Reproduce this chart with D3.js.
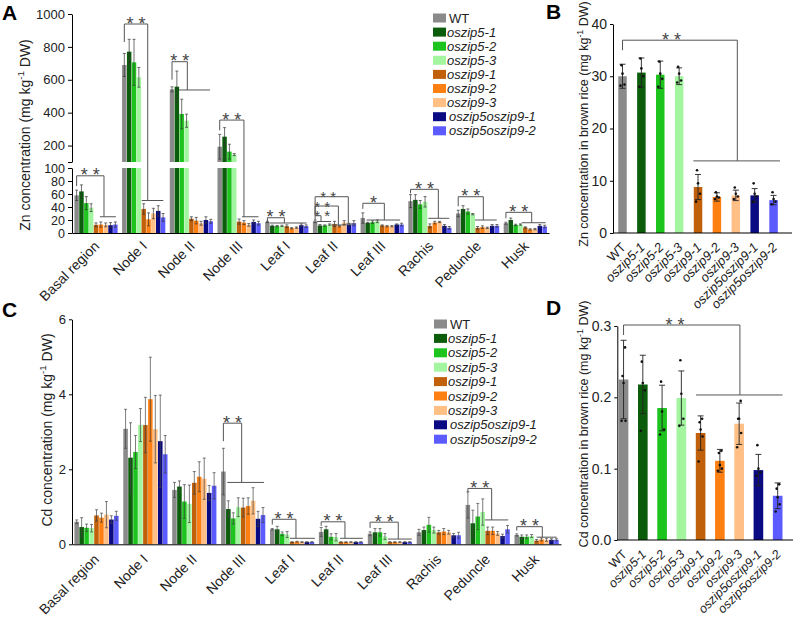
<!DOCTYPE html>
<html><head><meta charset="utf-8">
<script src="https://cdn.jsdelivr.net/npm/d3@7"></script>
<style>
body{margin:0;background:#fff;}
text{font-family:"Liberation Sans",Arial,sans-serif;fill:#222;}
</style></head><body>
<svg id="chart" width="795" height="617"></svg>
<script>
// ---------- data ----------
const series = ["WT","oszip5-1","oszip5-2","oszip5-3","oszip9-1","oszip9-2","oszip9-3","oszip5oszip9-1","oszip5oszip9-2"];
const colors = ["#8a8a8a","#0b5d0b","#1ec41e","#a3f5a0","#c0600b","#ff8012","#ffbf85","#0a0a82","#5b5bff"];
const tissues = ["Basal region","Node I","Node II","Node III","Leaf I","Leaf II","Leaf III","Rachis","Peduncle","Husk"];

// Panel A: Zn (mg/kg DW), rows = tissues, cols = series
const znMean = [
  [58, 64, 46, 39, 12.5, 13, 12.5, 12, 13],
  [690, 771, 706, 615, 37, 21, 30, 34, 24],
  [542, 558, 392, 351, 22, 19, 15, 20, 18],
  [193, 254, 163, 145, 17.5, 16, 12.5, 17, 15],
  [17, 11, 10.5, 11, 10.5, 7.3, 8.3, 12, 10.5],
  [18, 11.5, 11.5, 13, 14, 10.4, 16, 13, 15],
  [23, 15.6, 16.7, 18, 11.5, 10.4, 10.4, 13, 13],
  [49, 51, 44, 48, 11, 16, 17, 11, 8],
  [30, 37, 33, 29, 8, 9, 8, 11, 11],
  [15, 20, 12.5, 13, 8.5, 5.5, 6, 11, 10]
];
const znErr = [
  [8, 10, 10, 6, 3, 4, 3, 4, 4],
  [70, 75, 140, 60, 8, 10, 8, 8, 6],
  [15, 95, 90, 40, 3, 5, 3, 5, 3],
  [75, 55, 45, 6, 4, 3, 2, 3, 3],
  [1, 1, 1, 1, 2, 1, 1, 2, 2],
  [2, 1.5, 1, 1, 4, 1, 3, 2, 4],
  [8, 1, 2, 2, 1, 1, 1, 1, 2],
  [10, 8, 6, 8, 3, 2, 1, 2, 2],
  [5, 5, 4, 1, 2, 2, 1, 2, 2],
  [1.5, 3, 1, 1, 1, 1, 1, 2, 2]
];
const znTicksUpper = [100, 200, 400, 600, 800, 1000];
const znTicksLower = [0, 20, 40, 60, 80, 100];

// Panel B: Zn in brown rice
const znRiceMean = [30.0, 30.7, 30.3, 30.0, 8.8, 6.9, 7.2, 7.2, 6.3];
const znRiceErr  = [2.3, 2.8, 2.6, 1.6, 2.4, 0.8, 1.0, 1.3, 0.9];
const znRiceDots = [
  [28.2, 28.4, 30.5, 32.1], [28.0, 30.0, 31.5, 33.4], [28.0, 29.5, 30.5, 32.8],
  [28.8, 29.2, 30.5, 31.8], [6.0, 7.5, 9.5, 12.0], [6.5, 6.8, 7.0, 7.8],
  [6.5, 7.0, 7.5, 8.7], [6.0, 7.0, 7.5, 9.5], [5.5, 6.0, 6.5, 7.8]
];
const znRiceTicks = [0, 10, 20, 30, 40];

// Panel C: Cd (mg/kg DW)
const cdMean = [
  [0.60, 0.46, 0.44, 0.43, 0.77, 0.71, 0.79, 0.66, 0.76],
  [3.08, 2.31, 2.46, 3.18, 3.18, 3.87, 3.07, 2.75, 2.40],
  [1.45, 1.54, 1.14, 1.08, 1.64, 1.80, 1.75, 1.37, 1.56],
  [1.94, 0.94, 0.69, 0.99, 0.98, 1.02, 1.16, 0.68, 0.78],
  [0.40, 0.40, 0.28, 0.26, 0.06, 0.07, 0.06, 0.06, 0.06],
  [0.33, 0.40, 0.20, 0.19, 0.06, 0.06, 0.06, 0.06, 0.06],
  [0.28, 0.32, 0.32, 0.21, 0.06, 0.06, 0.06, 0.06, 0.06],
  [0.32, 0.38, 0.52, 0.38, 0.32, 0.34, 0.32, 0.24, 0.24],
  [1.05, 0.56, 0.74, 0.86, 0.36, 0.36, 0.29, 0.22, 0.40],
  [0.25, 0.20, 0.20, 0.22, 0.10, 0.13, 0.12, 0.12, 0.12]
];
const cdErr = [
  [0.05, 0.25, 0.10, 0.10, 0.15, 0.12, 0.35, 0.10, 0.12],
  [0.52, 0.93, 0.44, 0.44, 0.74, 1.12, 0.90, 1.23, 0.50],
  [0.20, 0.15, 0.45, 0.50, 0.30, 0.40, 0.55, 0.20, 0.35],
  [0.62, 0.22, 0.15, 0.25, 0.25, 0.22, 0.35, 0.20, 0.20],
  [0.02, 0.08, 0.05, 0.08, 0.01, 0.01, 0.01, 0.01, 0.01],
  [0.12, 0.08, 0.08, 0.10, 0.01, 0.01, 0.01, 0.01, 0.01],
  [0.05, 0.10, 0.10, 0.08, 0.01, 0.01, 0.01, 0.01, 0.01],
  [0.08, 0.08, 0.20, 0.08, 0.05, 0.08, 0.05, 0.05, 0.08],
  [0.35, 0.35, 0.35, 0.35, 0.10, 0.10, 0.05, 0.05, 0.10],
  [0.03, 0.05, 0.05, 0.04, 0.03, 0.04, 0.04, 0.03, 0.03]
];
const cdTicks = [0, 2, 4, 6];

// Panel D: Cd in brown rice
const cdRiceMean = [0.225, 0.218, 0.185, 0.199, 0.150, 0.111, 0.163, 0.098, 0.062];
const cdRiceErr  = [0.055, 0.041, 0.032, 0.038, 0.024, 0.016, 0.029, 0.022, 0.018];
const cdRiceDots = [
  [0.167, 0.167, 0.22, 0.23, 0.27], [0.153, 0.21, 0.22, 0.25], [0.148, 0.155, 0.18, 0.222],
  [0.16, 0.17, 0.205, 0.252], [0.11, 0.145, 0.155, 0.165, 0.17], [0.097, 0.10, 0.105, 0.122, 0.125],
  [0.13, 0.15, 0.17, 0.17, 0.195], [0.09, 0.095, 0.10, 0.133], [0.04, 0.05, 0.06, 0.072, 0.078]
];
const cdRiceTicks = [0, 0.1, 0.2, 0.3];

// significance brackets: t = tissue index, top/low in data units, positions in series-index units
const znBrackets = [
  {t:0, top:88, right:5.65, low:25, from:4.8, to:8.1, s:"* *"},
  {t:1, top:939, right:4.83, low:50, from:3.6, to:8.05, s:"* *"},
  {t:2, top:710, right:3.16, low:538, from:1.44, to:7.84, s:"* *"},
  {t:3, top:355, right:5.0, low:25, from:4.6, to:8.0, s:"* *"},
  {t:4, top:23.5, right:3.5, low:15.4, from:0.54, to:8.1, s:"* *"},
  {t:5, top:26.6, right:1.22, low:17.7, from:0.4, to:3.3, s:"* *", tp:1.45},
  {t:5, top:41.5, right:4.8, low:12.3, from:3.4, to:6.4, s:"* *", tp:1.45},
  {t:5, top:55.8, right:6.85, low:13.8, from:6.4, to:8.4, s:"* *", tp:2.7},
  {t:6, top:45.7, right:4.44, low:20, from:0.8, to:7.7, s:"*"},
  {t:7, top:67.2, right:5.74, low:22.6, from:3.67, to:8.0, s:"* *"},
  {t:8, top:55.8, right:5.18, low:20, from:3.47, to:7.94, s:"* *"},
  {t:9, top:31.8, right:5.32, low:15.8, from:3.26, to:8.2, s:"* *"}
];
const cdBrackets = [
  {t:3, top:3.23, right:3.69, low:1.65, from:0.79, to:8.2, s:"* *"},
  {t:4, top:0.667, right:4.78, low:0.16, from:3.57, to:8.6, s:"* *"},
  {t:5, top:0.60, right:4.8, low:0.16, from:3.8, to:8.4, s:"* *"},
  {t:6, top:0.59, right:5.69, low:0.14, from:3.6, to:8.4, s:"* *"},
  {t:8, top:1.49, right:4.8, low:0.65, from:3.45, to:8.15, s:"* *"},
  {t:9, top:0.47, right:5.15, low:0.19, from:4.0, to:8.05, s:"* *"}
];
const znRiceBracket = {top:36.9, right:6.08, low:13.8, from:3.75, to:8.34, s:"* *", tp:2.6};
const cdRiceBracket = {top:0.3014, right:6.04, low:0.2033, from:3.76, to:8.25, s:"* *", tp:2.67};

// ---------- drawing ----------
const svg = d3.select("#chart");
const BR = "#555";

function panelLetter(x, y, s){
  svg.append("text").attr("x", x).attr("y", y).text(s)
    .style("font-size","21px").style("font-weight","bold").style("fill","#000");
}
function yLabel(x, y, pre, size){
  const t = svg.append("text").attr("transform",`translate(${x},${y}) rotate(-90)`)
    .attr("text-anchor","middle").style("font-size", size+"px");
  t.append("tspan").text(pre + " (mg kg");
  t.append("tspan").attr("dy", -size*0.4).style("font-size", (size*0.7)+"px").text("-1");
  t.append("tspan").attr("dy", size*0.4).text(" DW)");
}
function legend(x, y0, dy){
  const g = svg.append("g");
  series.forEach((s,k)=>{
    const yc = y0 + k*dy;
    g.append("rect").attr("x", x).attr("y", yc-4.5).attr("width", 13).attr("height", 9).attr("fill", colors[k]);
    g.append("text").attr("x", x + (k>0 && k<7 ? 14 : 16)).attr("y", yc).attr("dy","0.35em")
      .style("font-size","13px").style("font-style", k===0 ? "normal" : "italic").text(s);
  });
}
function styleAxis(g, fs){
  g.selectAll("path,line").attr("stroke","#000").attr("stroke-width",1);
  g.selectAll("text").style("font-size", fs+"px").style("font-family","'Liberation Sans',Arial,sans-serif").attr("fill","#222");
}
function errBar(g, x, y1, y2, cap, col, w){
  g.append("line").attr("x1",x).attr("x2",x).attr("y1",y1).attr("y2",y2).attr("stroke",col).attr("stroke-width",w);
  g.append("line").attr("x1",x-cap).attr("x2",x+cap).attr("y1",y1).attr("y2",y1).attr("stroke",col).attr("stroke-width",w);
  g.append("line").attr("x1",x-cap).attr("x2",x+cap).attr("y1",y2).attr("y2",y2).attr("stroke",col).attr("stroke-width",w);
}
function bracket(g, xWT, yWTend, yTop, xR, yLow, xF, xT, xText, s, fs){
  g.append("path").attr("d",`M${xWT},${yWTend}V${yTop}H${xR}V${yLow}`)
    .attr("fill","none").attr("stroke",BR).attr("stroke-width",1);
  g.append("line").attr("x1",xF).attr("x2",xT).attr("y1",yLow).attr("y2",yLow)
    .attr("stroke",BR).attr("stroke-width",1);
  g.append("text").attr("x", xText).attr("y", yTop + 5.5).attr("text-anchor","middle")
    .style("font-size",(fs||18)+"px").style("fill","#444").text(s);
}

// ===== Panel A =====
(function(){
  const g = svg.append("g");
  const xG = d3.scaleBand().domain(tissues).range([72, 549]);
  const xS = d3.scaleBand().domain(series).range([2, 46]).padding(0.08);
  const yLo = d3.scaleLinear().domain([0,100]).range([233,168]);
  const yHi = d3.scaleLinear().domain([100,1000]).range([162,14]);
  const yA = v => v <= 100 ? yLo(v) : yHi(v);
  const px = (t, p) => xG(tissues[t]) + xS(series[0]) + xS.bandwidth()/2 + p*xS.step();

  tissues.forEach((tn, t)=>{
    series.forEach((s, k)=>{
      const v = znMean[t][k], x = xG(tn) + xS(s), w = xS.bandwidth();
      if (v <= 100) {
        g.append("rect").attr("x",x).attr("width",w).attr("y",yLo(v)).attr("height",yLo(0)-yLo(v)).attr("fill",colors[k]);
      } else {
        g.append("rect").attr("x",x).attr("width",w).attr("y",yLo(100)).attr("height",yLo(0)-yLo(100)).attr("fill",colors[k]);
        g.append("rect").attr("x",x).attr("width",w).attr("y",yHi(v)).attr("height",yHi(100)-yHi(v)).attr("fill",colors[k]);
      }
      const e = znErr[t][k];
      errBar(g, x + w/2, yA(v+e), yA(Math.max(0, v-e)), 1.5, "#333", 0.7);
    });
  });
  // axes
  const axHi = g.append("g").attr("transform","translate(72,0)")
    .call(d3.axisLeft(yHi).tickValues(znTicksUpper).tickFormat(d => d===100 ? "" : d).tickSize(4).tickSizeOuter(0));
  styleAxis(axHi, 13);
  const axLo = g.append("g").attr("transform","translate(72,0)")
    .call(d3.axisLeft(yLo).tickValues(znTicksLower).tickSize(4).tickSizeOuter(0));
  styleAxis(axLo, 12.5);
  const axX = g.append("g").attr("transform","translate(0,233)")
    .call(d3.axisBottom(xG).tickSize(0).tickSizeOuter(0));
  styleAxis(axX, 14);
  axX.selectAll("text").attr("text-anchor","end").attr("x",0).attr("y",0).attr("dy","0.35em")
    .attr("transform","translate(1,10.5) rotate(-45)");
  // brackets
  znBrackets.forEach(b=>{
    const xWT = px(b.t, 0);
    const wtTop = yA(znMean[b.t][0] + znErr[b.t][0]);
    const yTop = yA(b.top);
    const yEnd = Math.max(yTop + 4, Math.min(wtTop - 4, yTop + 18));
    const xR = px(b.t, b.right);
    const xText = b.tp !== undefined ? px(b.t, b.tp) : (xWT + xR)/2;
    bracket(g, xWT, yEnd, yTop, xR, yA(b.low), px(b.t, b.from), px(b.t, b.to), xText, b.s, b.t === 5 ? 15 : 18);
  });
  yLabel(30, 135, "Zn concentration", 14);
  panelLetter(2, 20, "A");
  legend(433, 18, 14.1);
})();

// ===== Panel C =====
(function(){
  const g = svg.append("g");
  const xG = d3.scaleBand().domain(tissues).range([72, 561]);
  const xS = d3.scaleBand().domain(series).range([2, 47]).padding(0.08);
  const y = d3.scaleLinear().domain([0,6]).range([544.3,319.3]);
  const px = (t, p) => xG(tissues[t]) + xS(series[0]) + xS.bandwidth()/2 + p*xS.step();
  tissues.forEach((tn, t)=>{
    series.forEach((s, k)=>{
      const v = cdMean[t][k], x = xG(tn) + xS(s), w = xS.bandwidth();
      g.append("rect").attr("x",x).attr("width",w).attr("y",y(v)).attr("height",y(0)-y(v)).attr("fill",colors[k]);
      const e = cdErr[t][k];
      errBar(g, x + w/2, y(v+e), y(Math.max(0, v-e)), 1.5, "#444", 0.7);
    });
  });
  const axY = g.append("g").attr("transform","translate(72,0)")
    .call(d3.axisLeft(y).tickValues(cdTicks).tickFormat(d3.format("d")).tickSize(3).tickSizeOuter(0));
  styleAxis(axY, 13);
  const axX = g.append("g").attr("transform","translate(0,544.3)")
    .call(d3.axisBottom(xG).tickSize(0).tickSizeOuter(0));
  styleAxis(axX, 14);
  axX.selectAll("text").attr("text-anchor","end").attr("x",0).attr("y",0).attr("dy","0.35em")
    .attr("transform","translate(0,12.5) rotate(-45)");
  cdBrackets.forEach(b=>{
    const xWT = px(b.t, 0);
    const wtTop = y(cdMean[b.t][0] + cdErr[b.t][0]);
    const yTop = y(b.top);
    const yEnd = Math.max(yTop + 4, Math.min(wtTop - 4, yTop + 18));
    const xR = px(b.t, b.right);
    bracket(g, xWT, yEnd, yTop, xR, y(b.low), px(b.t, b.from), px(b.t, b.to), (xWT + xR)/2, b.s);
  });
  yLabel(52, 430, "Cd concentration", 14);
  panelLetter(2, 317, "C");
  legend(434, 324, 14.4);
})();

// ===== Panels B & D =====
function ricePanel(o){
  const g = svg.append("g");
  const x = d3.scaleBand().domain(series).range([o.x0, o.x1]).paddingInner(o.pin).paddingOuter(o.pout).align(o.align);
  const y = d3.scaleLinear().domain(o.domain).range([o.yb, o.yt]);
  const cx = p => x(series[0]) + x.bandwidth()/2 + p*x.step();
  series.forEach((s,k)=>{
    const v = o.mean[k];
    g.append("rect").attr("x",x(s)).attr("width",x.bandwidth()).attr("y",y(v)).attr("height",y(0)-y(v)).attr("fill",colors[k]);
  });
  series.forEach((s,k)=>{
    const v = o.mean[k], e = o.err[k], c = x(s) + x.bandwidth()/2;
    errBar(g, c, y(v+e), y(v-e), 3, "#222", 0.9);
    const offs = [-2, 2, 0, -1, 1.5];
    o.dots[k].forEach((d,i)=>{
      g.append("circle").attr("cx", c + offs[i % offs.length]).attr("cy", y(d)).attr("r", 1.3).attr("fill","#111");
    });
  });
  const axY = g.append("g").attr("transform",`translate(${o.x0},0)`)
    .call(d3.axisLeft(y).tickValues(o.ticks).tickFormat(o.fmt).tickSize(3).tickSizeOuter(0));
  styleAxis(axY, 14);
  const axX = g.append("g").attr("transform",`translate(0,${o.yb})`)
    .call(d3.axisBottom(x).tickSize(0).tickSizeOuter(0));
  axX.select(".domain").attr("d", `M${o.x0},0H${o.x1}`);
  styleAxis(axX, o.xfs);
  axX.selectAll("text").attr("text-anchor","end").attr("x",0).attr("y",0).attr("dy","0.35em")
    .style("font-style", d => d === "WT" ? "normal" : "italic")
    .attr("transform","translate(1,12) rotate(-45)");
  const b = o.br;
  const xWT = cx(0), xR = cx(b.right), yTop = y(b.top);
  bracket(g, xWT, yTop + 10, yTop, xR, y(b.low), cx(b.from), cx(b.to), cx(b.tp), b.s);
  yLabel(o.lx, o.ly, o.label, 12.5);
  panelLetter(546, o.letterY, o.letter);
}
ricePanel({x0:613, x1:792, pin:0.55, pout:0.515, align:0.27, domain:[0,40], yb:233, yt:24,
  mean:znRiceMean, err:znRiceErr, dots:znRiceDots, ticks:znRiceTicks, fmt:d3.format("d"), xfs:13,
  br:znRiceBracket, lx:588, ly:124, label:"Zn concentration in brown rice", letter:"B", letterY:19});
ricePanel({x0:617.3, x1:793, pin:0.5, pout:0.31, align:0.12, domain:[0,0.3], yb:540, yt:326,
  mean:cdRiceMean, err:cdRiceErr, dots:cdRiceDots, ticks:cdRiceTicks, fmt:d3.format(".1f"), xfs:12.5,
  br:cdRiceBracket, lx:588, ly:424, label:"Cd concentration in brown rice", letter:"D", letterY:315});
</script>
</body></html>
